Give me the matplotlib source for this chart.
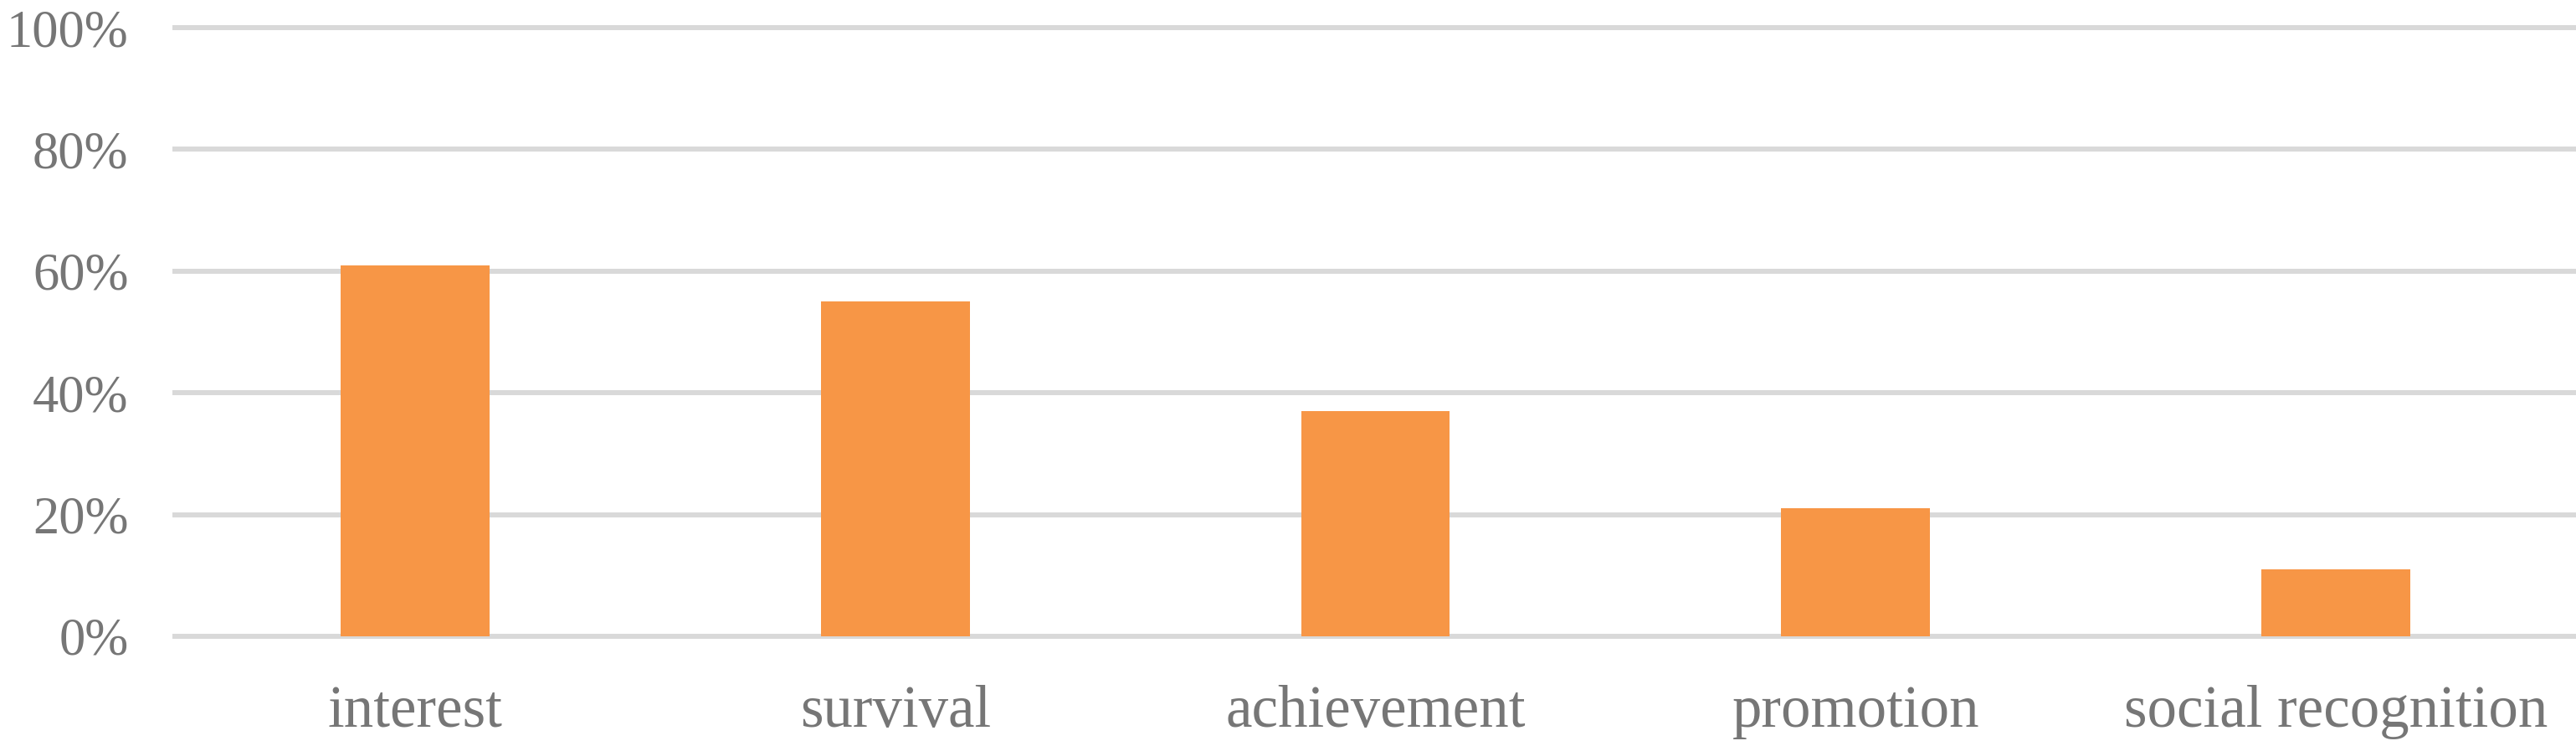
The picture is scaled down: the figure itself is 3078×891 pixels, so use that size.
import matplotlib
matplotlib.use("Agg")
import matplotlib.pyplot as plt
from matplotlib.ticker import PercentFormatter

categories = ["interest", "survival", "achievement", "promotion", "social recognition"]
values = [0.61, 0.55, 0.37, 0.21, 0.11]
yticks = [0, 0.2, 0.4, 0.6, 0.8, 1.0]

bar_color = "#F79646"
grid_color = "#D9D9D9"
text_color = "#767676"

plt.rcParams["font.family"] = ["Liberation Serif", "DejaVu Serif"]

fig = plt.figure(figsize=(30.78, 8.91), dpi=100)
ax = fig.add_axes([209 / 3078, 1 - 760 / 891, 1 - 209 / 3078, (760 - 33) / 891])

x = range(len(categories))
ax.bar(x, values, width=0.31, color=bar_color, zorder=3)

ax.set_xlim(-0.5, len(categories) - 0.5)
ax.set_ylim(0, 1)
ax.set_yticks(yticks)
ax.yaxis.set_major_formatter(PercentFormatter(1.0, decimals=0))
ax.set_xticks(list(x))
ax.set_xticklabels(categories)

# horizontal grid only, drawn under the bars
ax.grid(axis="y", color=grid_color, linewidth=4.3, zorder=0)
for gl in ax.get_ygridlines():
    gl.set_clip_on(False)

for s in ax.spines.values():
    s.set_visible(False)

ax.tick_params(axis="y", length=0, pad=40, labelsize=45, labelcolor=text_color)
ax.tick_params(axis="x", length=0, pad=42, labelsize=51, labelcolor=text_color)

fig.savefig("out.png", dpi=100)
